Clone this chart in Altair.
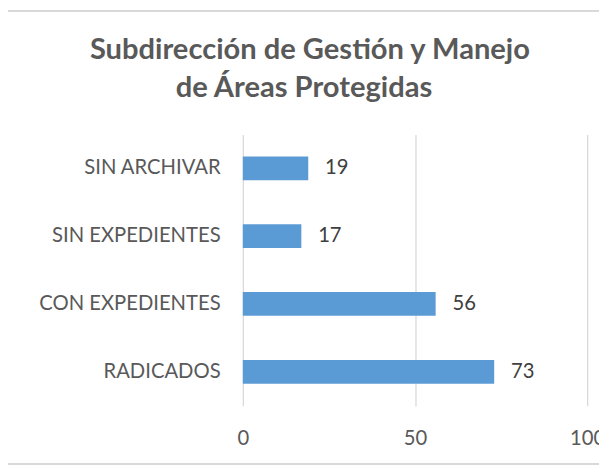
import altair as alt
import pandas as pd

categories = ["SIN ARCHIVAR", "SIN EXPEDIENTES", "CON EXPEDIENTES", "RADICADOS"]
values = [19, 17, 56, 73]
title_lines = ["Subdirección de Gestión y Manejo", "de Áreas Protegidas"]

df = pd.DataFrame({"cat": categories, "val": values})
tdf = pd.DataFrame({"t": title_lines, "line": [0, 1]})

FONT = "Lato"
y_enc = alt.Y("cat:N", sort=categories, title=None,
              scale=alt.Scale(paddingInner=0.65, paddingOuter=0.325),
              axis=alt.Axis(domain=False, ticks=False, grid=False, labelFont=FONT,
                            labelFontSize=20.5, labelColor="#595959", labelPadding=23,
                            labelLimit=400))
x_enc = alt.X("val:Q", title=None, scale=alt.Scale(domain=[0, 100]),
              axis=alt.Axis(values=[0, 50, 100], domain=False, ticks=False, grid=True,
                            gridColor="#d9d9d9", gridWidth=1.3, labelFont=FONT,
                            labelFontSize=20.5, labelColor="#595959", labelPadding=23,
                            labelFlush=False))

bars = alt.Chart(df).mark_bar(color="#5B9BD5").encode(x=x_enc, y=y_enc)
labels = alt.Chart(df).mark_text(align="left", baseline="middle", dx=17, font=FONT,
                                 fontSize=20.5, color="#404040").encode(
    x="val:Q", y=alt.Y("cat:N", sort=categories), text="val:Q")

title1 = alt.Chart(tdf).transform_filter("datum.line == 0").mark_text(
    align="center", baseline="alphabetic", font=FONT, fontSize=29.5, fontWeight="bold",
    color="#595959").encode(x=alt.value(68), y=alt.value(-76), text="t:N")
title2 = alt.Chart(tdf).transform_filter("datum.line == 1").mark_text(
    align="center", baseline="alphabetic", font=FONT, fontSize=29.5, fontWeight="bold",
    color="#595959").encode(x=alt.value(62), y=alt.value(-38), text="t:N")

frame_top = alt.Chart(df).mark_rule(color="#d9d9d9", strokeWidth=2).encode(
    x=alt.value(-240), x2=alt.value(400), y=alt.value(-125))
frame_bottom = alt.Chart(df).mark_rule(color="#d9d9d9", strokeWidth=2).encode(
    x=alt.value(-240), x2=alt.value(400), y=alt.value(334))

chart = alt.layer(bars, labels, title1, title2, frame_top, frame_bottom).properties(
    width=349, height=275,
    autosize=alt.AutoSizeParams(type="none"),
    padding={"left": 238, "top": 125, "right": 12, "bottom": 62},
).configure_view(stroke=None)

chart.save("out.html", embed_options={"renderer": "svg", "actions": False})
